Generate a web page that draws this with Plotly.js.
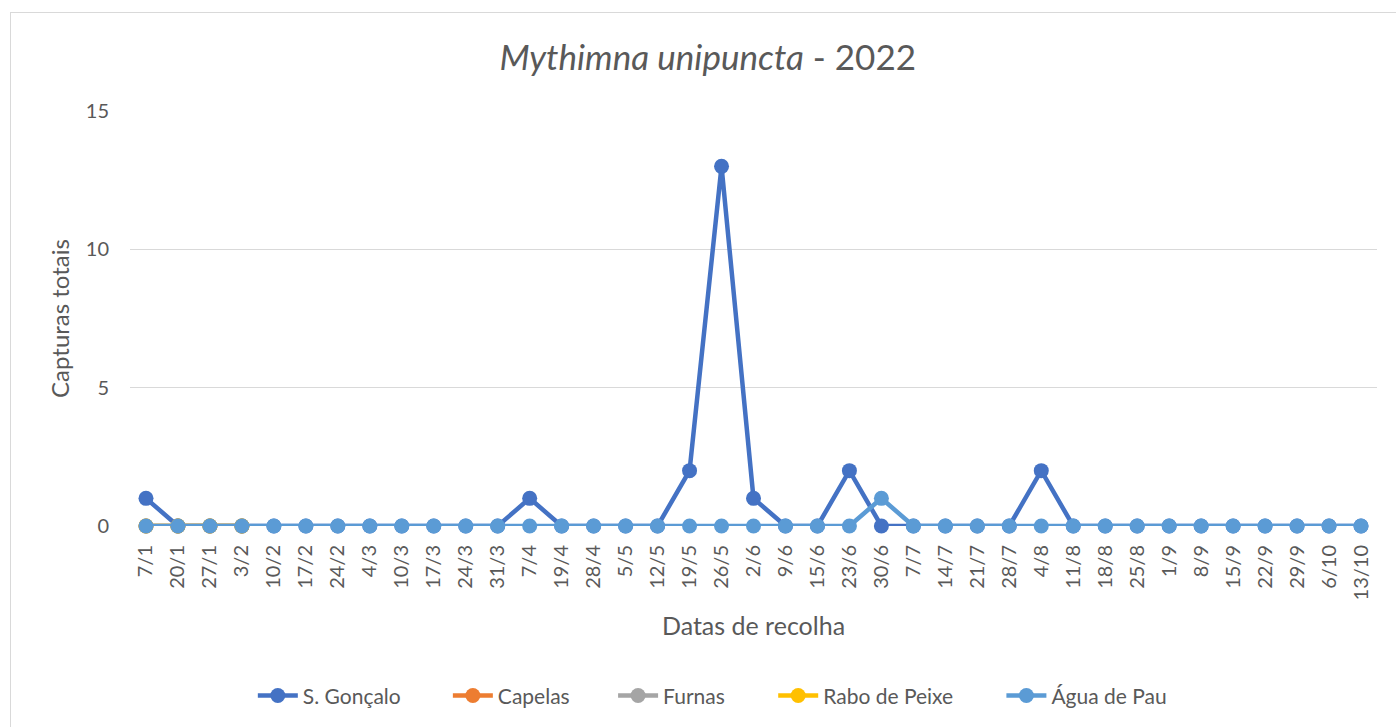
<!DOCTYPE html>
<html>
<head>
<meta charset="utf-8">
<script src="https://cdn.plot.ly/plotly-3.0.1.min.js"></script>
<style>
  html, body { margin: 0; padding: 0; background: #fff; }
  #frame { position: absolute; left: 10px; top: 12px; width: 1400px; height: 730px; border: 1px solid #d9d9d9; box-sizing: border-box; }
  #chart { position: absolute; left: 0; top: 0; width: 1396px; height: 727px; }
</style>
</head>
<body>
<div id="frame"></div>
<div id="chart"></div>
<script>
const dates = ["7/1","20/1","27/1","3/2","10/2","17/2","24/2","4/3","10/3","17/3","24/3","31/3","7/4","19/4","28/4","5/5","12/5","19/5","26/5","2/6","9/6","15/6","23/6","30/6","7/7","14/7","21/7","28/7","4/8","11/8","18/8","25/8","1/9","8/9","15/9","22/9","29/9","6/10","13/10"];

const sGoncalo = [1,0,0,0,0,0,0,0,0,0,0,0,1,0,0,0,0,2,13,1,0,0,2,0,0,0,0,0,2,0,0,0,0,0,0,0,0,0,0];
const capelas = [0,0,0,0];
const furnas = [0,0,0,0];
const raboDePeixe = [0,0,0,0];
const aguaDePau = [0,0,0,0,0,0,0,0,0,0,0,0,0,0,0,0,0,0,0,0,0,0,0,1,0,0,0,0,0,0,0,0,0,0,0,0,0,0,0];

const seriesNames = ["S. Gonçalo","Capelas","Furnas","Rabo de Peixe","Água de Pau"];
const seriesColors = ["#4472C4","#ED7D31","#A5A5A5","#FFC000","#5B9BD5"];
const seriesValues = [sGoncalo, capelas, furnas, raboDePeixe, aguaDePau];

const FONT = "Lato, 'Open Sans', sans-serif";
const legendIds = ["legend","legend2","legend3","legend4","legend5"];
const legendX = [0.0985, 0.2549, 0.3874, 0.5158, 0.6988];

const traces = seriesValues.map((vals, i) => ({
  type: "scatter",
  mode: "lines+markers",
  name: seriesNames[i],
  legend: legendIds[i],
  x: dates.slice(0, vals.length),
  y: vals,
  line: { color: seriesColors[i], width: 4.5 },
  marker: { color: seriesColors[i], size: 15 },
  cliponaxis: false
}));

const layout = {
  width: 1396,
  height: 727,
  paper_bgcolor: "rgba(0,0,0,0)",
  plot_bgcolor: "rgba(0,0,0,0)",
  margin: { l: 130, r: 19, t: 111, b: 200 },
  font: { family: FONT, color: "#595959" },
  title: {
    text: "<i>Mythimna unipuncta</i> - 2022",
    font: { family: FONT, size: 35, color: "#595959" },
    x: 0.507, xanchor: "center",
    y: 0.92, yanchor: "middle"
  },
  xaxis: {
    type: "category",
    categoryorder: "array",
    categoryarray: dates,
    range: [-0.5, dates.length - 0.5],
    tickangle: -90,
    tickfont: { family: FONT, size: 20, color: "#595959" },
    showgrid: false,
    zeroline: false,
    showline: false,
    ticks: "",
    ticklabelstandoff: 14,
    title: { text: "Datas de recolha", font: { family: FONT, size: 25, color: "#595959" }, standoff: 18 }
  },
  yaxis: {
    range: [0, 15],
    tickvals: [0, 5, 10, 15],
    tickfont: { family: FONT, size: 20, color: "#595959" },
    gridcolor: "#d9d9d9",
    gridwidth: 1,
    zeroline: false,
    showline: false,
    ticks: "",
    ticklabelstandoff: 20,
    title: { text: "Capturas totais", font: { family: FONT, size: 24, color: "#595959" }, standoff: 9 }
  },
  showlegend: true
};

legendIds.forEach((id, i) => {
  layout[id] = {
    orientation: "h",
    x: legendX[i], xanchor: "left",
    y: -0.406, yanchor: "middle",
    font: { family: FONT, size: 21, color: "#595959" },
    itemwidth: 40,
    bgcolor: "rgba(0,0,0,0)"
  };
});

Plotly.newPlot("chart", traces, layout, { displayModeBar: false, staticPlot: true });
</script>
</body>
</html>
